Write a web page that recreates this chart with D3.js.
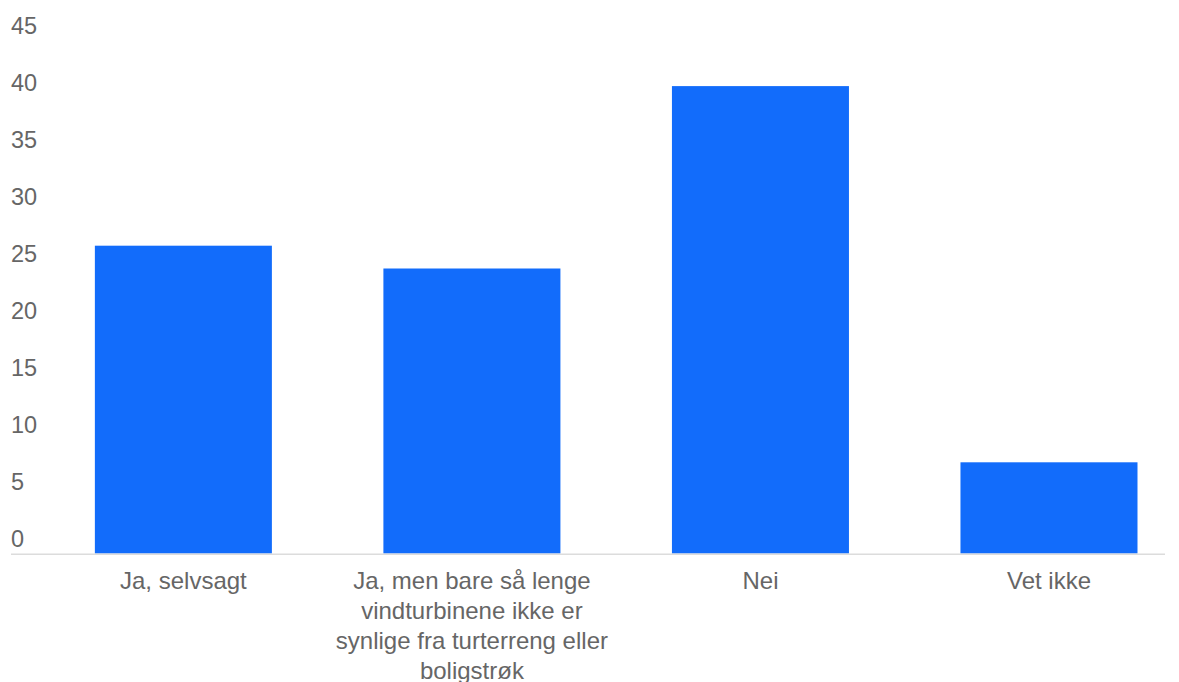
<!DOCTYPE html>
<html>
<head>
<meta charset="utf-8">
<script src="https://cdn.jsdelivr.net/npm/d3@7"></script>
<style>
  html, body { margin: 0; padding: 0; background: #fff; }
  svg { display: block; }
</style>
</head>
<body>
<svg id="chart" width="1179" height="682"></svg>
<script>
const categories = [
  "Ja, selvsagt",
  "Ja, men bare så lenge vindturbinene ikke er synlige fra turterreng eller boligstrøk",
  "Nei",
  "Vet ikke"
];
const values = [27, 25, 41, 8];
const yTicks = [0, 5, 10, 15, 20, 25, 30, 35, 40, 45];

const W = 1179, H = 682;
const left = 11, right = 1165, baseY = 553.5, topY = 40.5;
const font = "Liberation Sans, Arial, Helvetica, sans-serif";

const svg = d3.select("#chart");

const x = d3.scaleBand()
  .domain(categories)
  .range([left, right])
  .paddingInner(0.3865)
  .paddingOuter(0.193)
  .align(0.753);

const y = d3.scaleLinear().domain([0, 45]).range([baseY, topY]);

// bars
svg.append("g").selectAll("rect")
  .data(categories)
  .join("rect")
  .attr("x", d => x(d))
  .attr("width", x.bandwidth())
  .attr("y", (d, i) => y(values[i]))
  .attr("height", (d, i) => y(0) - y(values[i]))
  .attr("fill", "#126CFB");

// baseline
svg.append("line")
  .attr("x1", left).attr("x2", right)
  .attr("y1", baseY + 0.75).attr("y2", baseY + 0.75)
  .attr("stroke", "#dcdcdc").attr("stroke-width", 1.5);

// y axis labels (above tick position, left aligned)
const yAxis = d3.axisLeft(y).tickValues(yTicks).tickSize(0).tickPadding(0);
const gy = svg.append("g").attr("transform", `translate(${left},0)`).call(yAxis);
gy.select(".domain").remove();
gy.selectAll(".tick text")
  .attr("x", 0)
  .attr("dy", null)
  .attr("y", -7.5)
  .attr("text-anchor", "start")
  .attr("fill", "#666")
  .style("font-family", font)
  .style("font-size", "23.5px");

// x axis labels
const xAxis = d3.axisBottom(x).tickSize(0).tickPadding(0);
const gx = svg.append("g").attr("transform", `translate(0,${baseY})`).call(xAxis);
gx.select(".domain").remove();
gx.selectAll(".tick text")
  .attr("fill", "#666")
  .style("font-family", font)
  .style("font-size", "24px")
  .each(function(d) {
    const t = d3.select(this);
    const words = d.split(" ");
    t.text(null).attr("y", 0).attr("dy", null);
    const lines = [];
    let line = [];
    const probe = t.append("tspan");
    words.forEach(w => {
      const test = line.concat([w]).join(" ");
      probe.text(test);
      if (probe.node().getComputedTextLength() > 282 && line.length) {
        lines.push(line.join(" "));
        line = [w];
      } else {
        line.push(w);
      }
    });
    if (line.length) lines.push(line.join(" "));
    probe.remove();
    lines.forEach((l, i) => {
      t.append("tspan").attr("x", 0).attr("y", 35.5 + i * 30).text(l);
    });
  });
</script>
</body>
</html>
